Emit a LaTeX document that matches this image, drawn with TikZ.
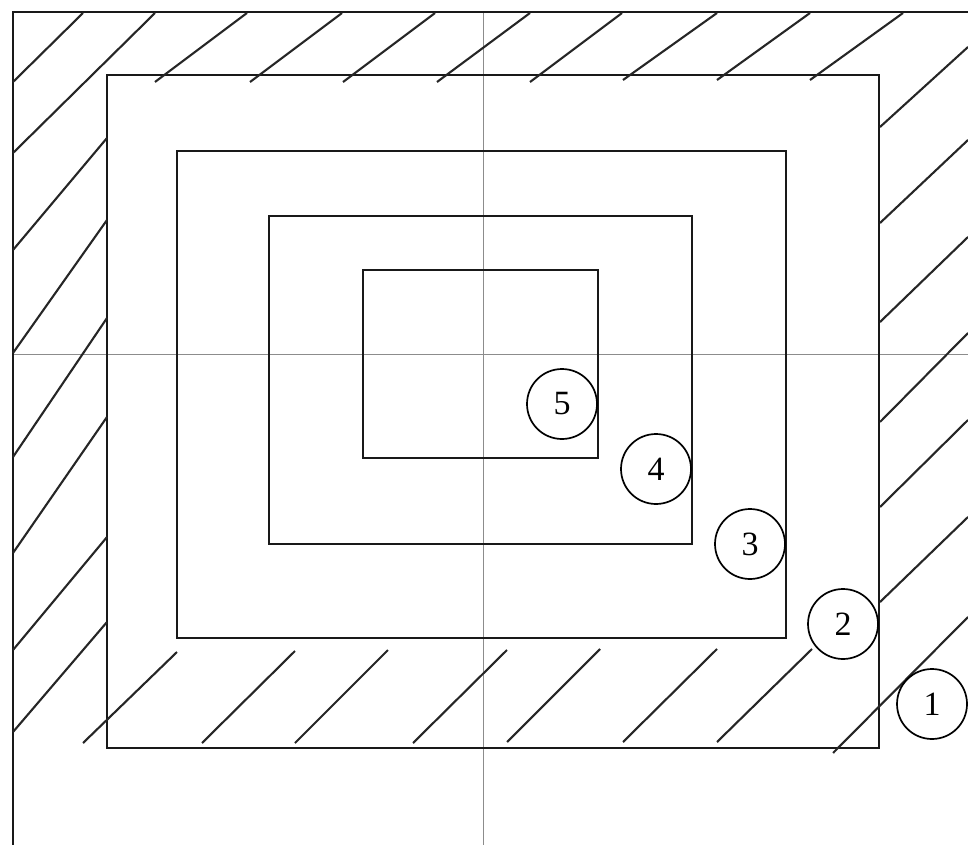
\documentclass[tikz,border=0pt]{standalone}
\usepackage{fontspec}
\setmainfont{Liberation Serif}

\begin{document}
\begin{tikzpicture}
	[x=0.5pt, y=-0.5pt,
	wall/.style={line width=1pt, black!90},
	hatch/.style={line width=1.05pt, black!85},
	axis/.style={line width=0.45pt, black!45},
	num/.style={circle, draw, line width=0.85pt, minimum size=35pt, inner sep=0pt, font=\fontsize{17}{20}\selectfont}]
	\useasboundingbox (0,0) rectangle (968,845);
	% frame and centre lines
	\draw[axis] (483,12) -- (483,845);
	\draw[axis] (13,354) -- (968,354);
	\draw[wall] (968,12) -- (13,12) -- (13,845);
	% rectangles
	\draw[wall] (107,75) rectangle (879,748);
	\draw[wall] (177,151) rectangle (786,638);
	\draw[wall] (269,216) rectangle (692,544);
	\draw[wall] (363,270) rectangle (598,458);
	% hatching
	\foreach \xa/\ya/\xb/\yb in {13/82/83/13, 13/153/155/13, 155/82/247/13, 250/82/342/13,
		343/82/435/13, 437/82/530/13, 530/82/622/13, 623/80/717/13, 717/80/810/13, 810/80/903/13,
		880/127/968/47, 880/223/968/140, 880/322/968/237, 880/422/968/333, 880/507/968/420,
		880/602/968/517, 833/753/968/617,
		13/250/107/138, 13/353/107/220, 13/457/107/318, 13/553/107/417, 13/650/107/537, 13/732/107/622,
		83/743/177/652, 202/743/295/651, 295/743/388/650, 413/743/507/650, 507/742/600/649,
		623/742/717/649, 717/742/812/649}
		\draw[hatch] (\xa,\ya) -- (\xb,\yb);
	% numbered circles
	\node[num] (n5) at (562,404) {5};
	\node[num] (n4) at (656,469) {4};
	\node[num] (n3) at (750,544) {3};
	\node[num] (n2) at (843,624) {2};
	\node[num] (n1) at (932,704) {1};
\end{tikzpicture}
\end{document}
